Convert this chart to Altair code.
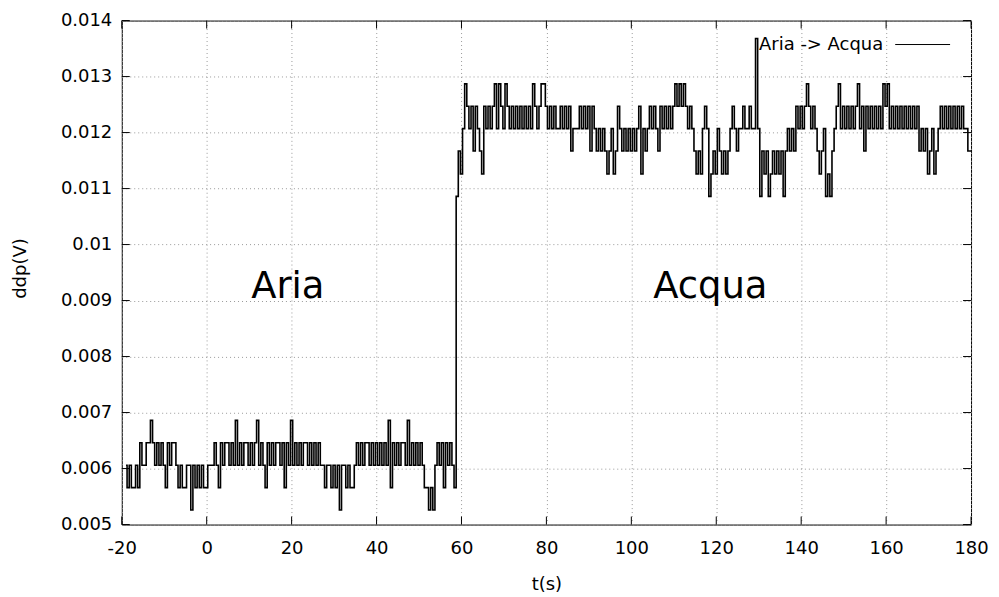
import altair as alt
import pandas as pd

# ddp readings in mV, sampled every 0.5 s; each list covers 20 s starting at its key time
seg_a = [6.06, 5.66, 6.06, 5.66, 5.66, 6.06, 5.66, 6.46, 6.06, 6.06,
         6.46, 6.46, 6.86, 6.46, 6.06, 6.46, 6.06, 6.46, 6.06, 5.66,
         6.46, 6.06, 6.46, 6.46, 6.06, 5.66, 6.06, 5.66, 5.66, 6.06,
         6.06, 5.26, 6.06, 5.66, 6.06, 5.66, 6.06, 5.66, 5.66, 6.06]
seg_b = [6.06, 6.06, 6.46, 6.06, 5.66, 6.46, 6.06, 6.46, 6.46, 6.06,
         6.46, 6.06, 6.86, 6.06, 6.46, 6.06, 6.46, 6.46, 6.06, 6.46,
         6.06, 6.46, 6.86, 6.06, 6.46, 6.06, 5.66, 6.46, 6.06, 6.46,
         6.06, 6.46, 6.46, 6.06, 6.46, 5.66, 6.46, 6.06, 6.86, 6.06]
seg_c = [6.46, 6.06, 6.46, 6.06, 6.46, 6.46, 6.06, 6.46, 6.06, 6.46,
         6.06, 6.46, 6.06, 6.06, 5.66, 6.06, 6.06, 5.66, 6.06, 5.66,
         6.06, 5.26, 6.06, 6.06, 5.66, 6.06, 5.66, 5.66, 6.06, 6.46,
         6.06, 6.46, 6.06, 6.46, 6.46, 6.06, 6.46, 6.06, 6.46, 6.06]
seg_d = [6.46, 6.06, 6.46, 6.06, 6.86, 5.66, 6.46, 6.06, 6.46, 6.06,
         6.46, 6.46, 6.06, 6.86, 6.06, 6.46, 6.06, 6.46, 6.06, 6.46,
         6.06, 5.66, 5.66, 5.26, 5.66, 5.26, 6.06, 6.46, 6.06, 6.46,
         5.66, 6.46, 6.06, 6.46, 6.06, 5.66, 10.86, 11.67, 11.26, 12.07]
seg_e = [12.87, 12.47, 12.07, 12.47, 11.67, 12.47, 12.07, 11.67, 11.26, 12.47,
         12.07, 12.47, 12.07, 12.47, 12.87, 12.07, 12.87, 12.47, 12.07, 12.87,
         12.47, 12.07, 12.47, 12.07, 12.47, 12.07, 12.47, 12.07, 12.47, 12.07,
         12.47, 12.07, 12.87, 12.47, 12.07, 12.47, 12.87, 12.87, 12.47, 12.07]
seg_f = [12.47, 12.07, 12.47, 12.07, 12.07, 12.47, 12.07, 12.47, 12.07, 12.47,
         11.67, 12.07, 12.07, 12.07, 12.47, 12.07, 12.47, 12.07, 12.47, 11.67,
         12.47, 12.07, 11.67, 12.07, 11.67, 12.07, 11.67, 11.26, 11.67, 12.07,
         11.26, 11.67, 12.47, 12.07, 11.67, 12.07, 11.67, 12.07, 11.67, 12.07]
seg_g = [11.67, 12.07, 12.47, 11.26, 12.07, 11.67, 12.07, 12.47, 12.07, 12.47,
         12.07, 11.67, 12.47, 12.07, 12.47, 12.07, 12.47, 12.07, 12.47, 12.87,
         12.47, 12.87, 12.47, 12.87, 12.47, 12.07, 12.47, 12.07, 11.67, 11.26,
         11.67, 11.26, 12.07, 12.47, 12.07, 10.86, 11.26, 11.67, 11.26, 12.07]
seg_h = [11.67, 11.26, 11.67, 11.26, 11.67, 12.07, 12.47, 12.07, 11.67, 12.07,
         12.07, 12.47, 12.07, 12.07, 12.47, 12.07, 12.07, 13.68, 12.07, 10.86,
         11.67, 11.26, 11.67, 10.86, 11.26, 11.67, 11.26, 11.67, 11.26, 11.67,
         10.86, 11.67, 12.07, 11.67, 12.07, 11.67, 12.47, 12.07, 12.47, 12.07]
seg_i = [12.47, 12.87, 12.47, 12.07, 12.47, 12.07, 11.67, 11.26, 11.67, 12.07,
         10.86, 11.26, 10.86, 11.67, 12.07, 12.47, 12.87, 12.07, 12.47, 12.07,
         12.47, 12.07, 12.47, 12.07, 12.47, 12.87, 12.07, 12.47, 11.67, 12.47,
         12.07, 12.47, 12.07, 12.47, 12.07, 12.47, 12.07, 12.87, 12.47, 12.87]
seg_j = [12.07, 12.47, 12.07, 12.47, 12.07, 12.47, 12.07, 12.47, 12.07, 12.47,
         12.07, 12.47, 12.07, 12.47, 11.67, 12.07, 11.67, 12.07, 11.26, 11.67,
         12.07, 11.26, 11.67, 12.07, 12.47, 12.07, 12.47, 12.07, 12.47, 12.07,
         12.47, 12.07, 12.47, 12.07, 12.47, 12.07, 12.07, 11.67, 11.67]

segment_starts = [-19.0, 1.0, 21.0, 41.0, 61.0, 81.0, 101.0, 121.0, 141.0, 161.0]
segments = [seg_a, seg_b, seg_c, seg_d, seg_e, seg_f, seg_g, seg_h, seg_i, seg_j]
sample_step = 0.5

x_ticks = [-20, 0, 20, 40, 60, 80, 100, 120, 140, 160, 180]
y_ticks = [0.005, 0.006, 0.007, 0.008, 0.009, 0.010, 0.011, 0.012, 0.013, 0.014]

region_labels = ["Aria", "Acqua"]
region_t = [19.1, 118.6]
region_v = [0.00904, 0.00904]
legend_label = ["Aria -> Acqua"]

rows = []
for start, vals in zip(segment_starts, segments):
    for i, v in enumerate(vals):
        rows.append({"t": start + sample_step * i, "ddp": v / 1000.0})
df = pd.DataFrame(rows)

W, H = 851, 505
FONT = "DejaVu Sans"

x_scale = alt.Scale(domain=[-20, 180], nice=False, zero=False)
y_scale = alt.Scale(domain=[0.005, 0.014], nice=False, zero=False)
x_axis = alt.Axis(values=x_ticks, title="t(s)", labelExpr="datum.value + ''",
                  labelFlush=False, labelOverlap=False)
y_axis = alt.Axis(values=y_ticks, title="ddp(V)", labelExpr="datum.value + ''",
                  labelFlush=False, labelOverlap=False,
                  titleX=-101.5, titleY=248, titleAngle=270,
                  titleBaseline="middle", titleAlign="center")


def X(field):
    return alt.X(field, type="quantitative", scale=x_scale, axis=x_axis)


def Y(field):
    return alt.Y(field, type="quantitative", scale=y_scale, axis=y_axis)


line = alt.Chart(df).mark_line(color="black", strokeWidth=1.6, interpolate="step").encode(
    x=X("t"), y=Y("ddp"))

xt = pd.DataFrame({"t": x_ticks})
yt = pd.DataFrame({"ddp": y_ticks})

xtick_bottom = alt.Chart(xt).mark_rule(color="black", strokeWidth=1).encode(
    x=X("t"), y=alt.value(H), y2=alt.value(H - 8))
xtick_top = alt.Chart(xt).mark_rule(color="black", strokeWidth=1).encode(
    x=X("t"), y=alt.value(0), y2=alt.value(8))
ytick_left = alt.Chart(yt).mark_rule(color="black", strokeWidth=1).encode(
    y=Y("ddp"), x=alt.value(0), x2=alt.value(8))
ytick_right = alt.Chart(yt).mark_rule(color="black", strokeWidth=1).encode(
    y=Y("ddp"), x=alt.value(W), x2=alt.value(W - 8))

ann_df = pd.DataFrame({"t": region_t, "ddp": region_v, "label": region_labels})
ann = alt.Chart(ann_df).mark_text(font=FONT, fontSize=37, align="center",
                                  baseline="alphabetic", color="black").encode(
    x=X("t"), y=Y("ddp"), text="label:N")

leg_df = pd.DataFrame({"label": legend_label})
leg_text = alt.Chart(leg_df).mark_text(font=FONT, fontSize=18, align="right",
                                       baseline="middle", color="black").encode(
    x=alt.value(763), y=alt.value(24), text="label:N")
leg_line = alt.Chart(leg_df).mark_rule(color="black", strokeWidth=1).encode(
    x=alt.value(775), x2=alt.value(830), y=alt.value(24))

chart = alt.layer(
    line, xtick_bottom, xtick_top, ytick_left, ytick_right, ann, leg_text, leg_line
).properties(
    width=W, height=H,
    padding={"left": 114, "top": 12, "right": 20, "bottom": 72},
    autosize=alt.AutoSizeParams(type="none"),
    background="white",
).configure_view(
    stroke="black", strokeWidth=1
).configure_axis(
    domain=False, ticks=False, grid=True, gridColor="#9a9a9a", gridDash=[1, 3],
    gridWidth=1, labelFont=FONT, labelFontSize=18, labelColor="black",
    titleFont=FONT, titleFontSize=18, titleFontWeight="normal", titleColor="black",
).configure_axisX(
    labelPadding=15, titlePadding=18
).configure_axisY(
    labelPadding=10
)

chart.save("out.html", embed_options={"renderer": "svg", "actions": False})
